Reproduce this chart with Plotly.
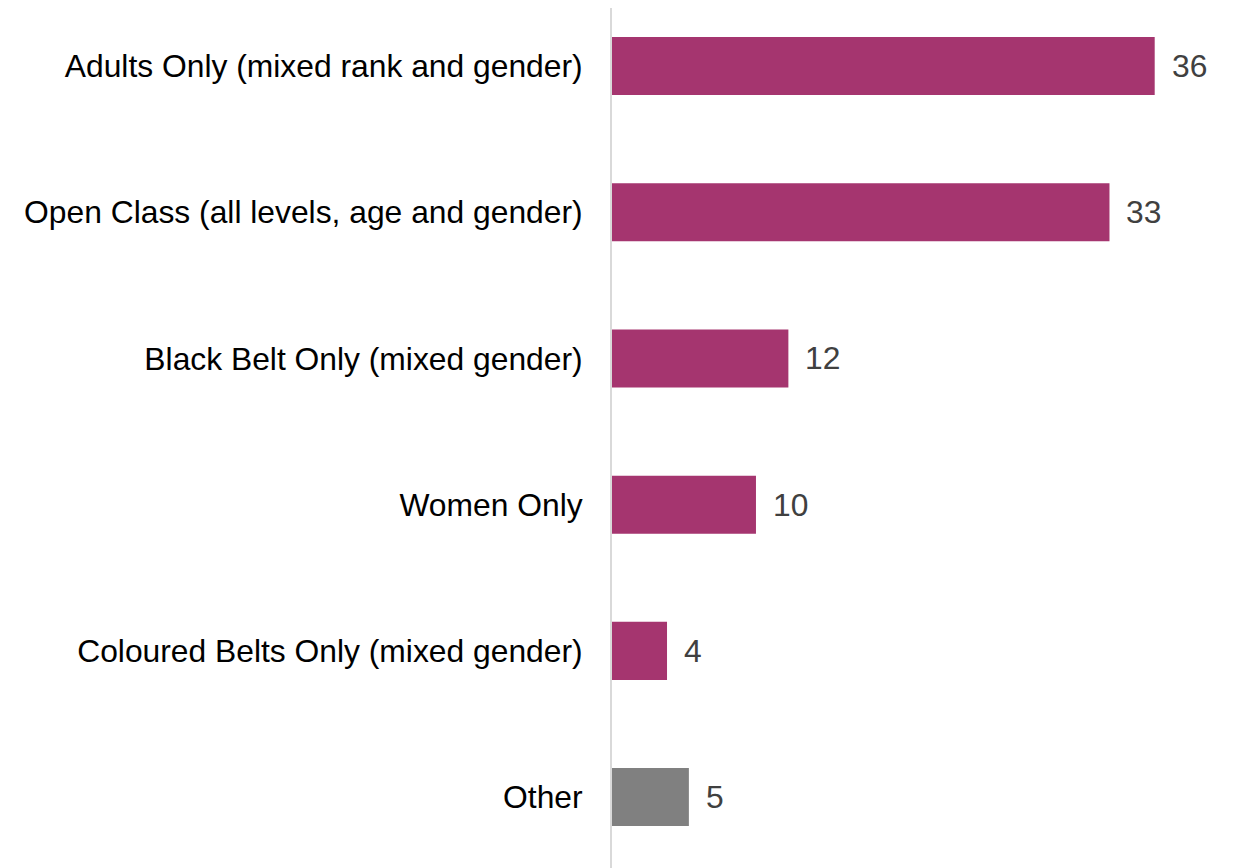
import plotly.graph_objects as go

categories = [
    "Adults Only (mixed rank and gender)",
    "Open Class (all levels, age and gender)",
    "Black Belt Only (mixed gender)",
    "Women Only",
    "Coloured Belts Only (mixed gender)",
    "Other",
]
values = [36.0, 33.0, 11.7, 9.55, 3.65, 5.1]
value_labels = ["36", "33", "12", "10", "4", "5"]
bar_colors = ["#A5356F", "#A5356F", "#A5356F", "#A5356F", "#A5356F", "#808080"]

fig = go.Figure()
fig.add_trace(go.Bar(
    y=categories,
    x=values,
    orientation="h",
    marker=dict(color=bar_colors, line=dict(width=0)),
    hoverinfo="skip",
))

for cat, v, lab in zip(categories, values, value_labels):
    fig.add_annotation(
        x=v, y=cat, text=lab, showarrow=False,
        xanchor="left", yanchor="middle", xshift=15,
        font=dict(family="Liberation Sans, Arial, sans-serif", size=31.8, color="#404040"),
    )

fig.update_layout(
    width=1235, height=868,
    margin=dict(l=604, r=28, t=0, b=8),
    plot_bgcolor="white", paper_bgcolor="white",
    showlegend=False,
    bargap=0.603,
    font=dict(family="Liberation Sans, Arial, sans-serif", size=31.8, color="#000000"),
    xaxis=dict(range=[0, 40], visible=False, showgrid=False, zeroline=False, fixedrange=True),
    yaxis=dict(
        type="category",
        categoryorder="array", categoryarray=categories,
        range=[5.485, -0.397],
        showline=True, linecolor="#D9D9D9", linewidth=2,
        showgrid=False, zeroline=False, ticks="",
        ticklabelstandoff=21,
        tickfont=dict(family="Liberation Sans, Arial, sans-serif", size=31.8, color="#000000"),
    ),
)

fig.write_html("out.html")
